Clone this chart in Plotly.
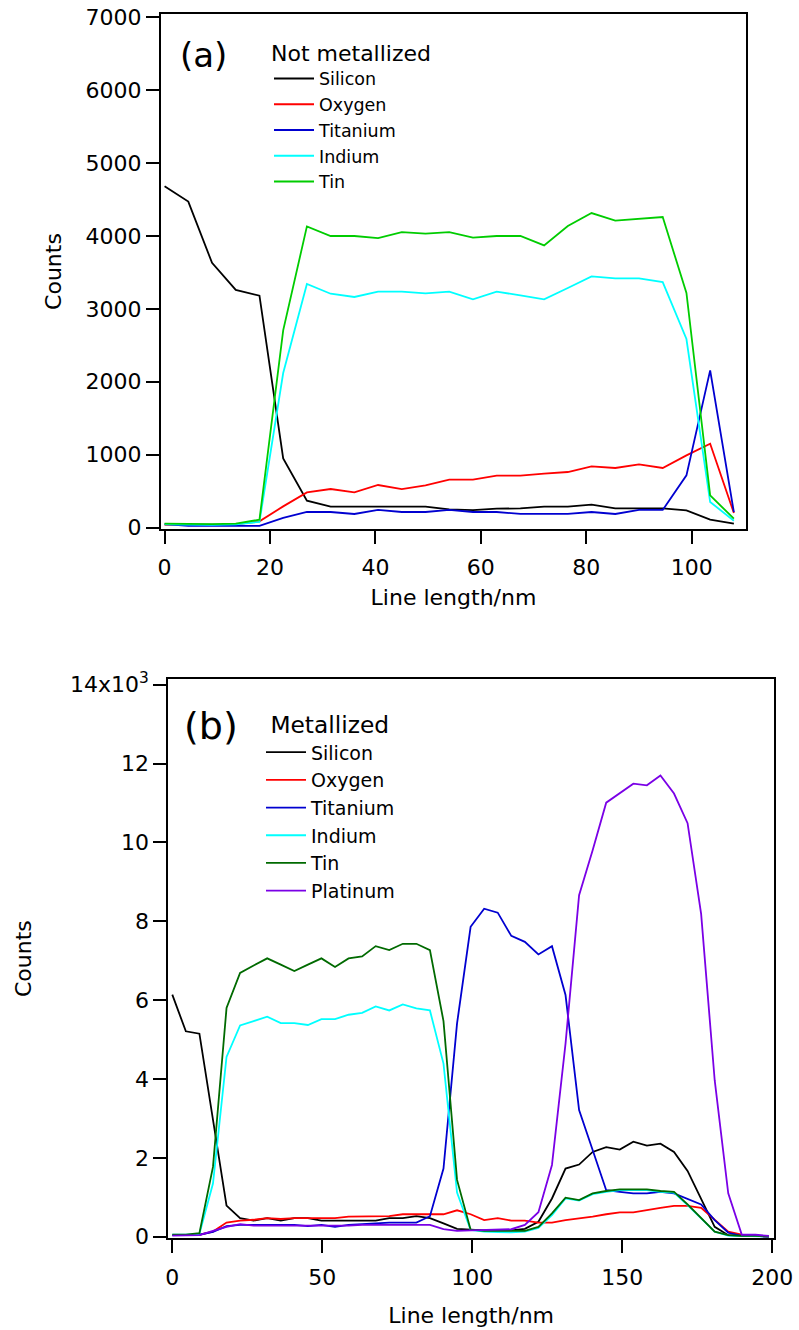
import plotly.graph_objects as go

FIG_W, FIG_H = 799, 1330
FONT = "DejaVu Sans"

# ---------------- Panel (a): not metallized, EDX line scan ----------------
A_STEP_NM = 4.5
A_LINE_NM = [round(i * A_STEP_NM, 2) for i in range(25)]

A_SILICON = [4680, 4470, 3630, 3260, 3180, 950, 370, 290, 290, 290, 290, 290, 250,
             240, 260, 265, 290, 290, 315, 265, 265, 265, 237, 110, 55]
A_OXYGEN = [40, 40, 40, 45, 87, 292, 484, 530, 484, 585, 530, 580, 658,
            658, 713, 713, 740, 763, 840, 818, 868, 818, 991, 1151, 201]
A_TITANIUM = [50, 25, 25, 25, 25, 133, 215, 215, 188, 243, 215, 215, 243,
              215, 215, 188, 188, 188, 215, 188, 243, 243, 717, 2156, 212]
A_INDIUM = [45, 40, 40, 45, 80, 2120, 3340, 3207, 3162, 3235, 3235, 3212, 3235,
            3130, 3235, 3184, 3130, 3285, 3445, 3417, 3417, 3367, 2586, 352, 96]
A_TIN = [55, 50, 50, 55, 110, 2705, 4130, 3998, 3998, 3970, 4052, 4030, 4052,
         3975, 3998, 3998, 3870, 4135, 4313, 4208, 4231, 4258, 3217, 443, 123]

# ---------------- Panel (b): metallized, counts in thousands ----------------
B_STEP_NM = 4.52
B_LINE_NM = [round(i * B_STEP_NM, 2) for i in range(45)]

B_SILICON = [6.14, 5.21, 5.15, 3.00, 0.79, 0.47, 0.41, 0.47, 0.41, 0.47, 0.47, 0.41,
             0.41, 0.41, 0.41, 0.41, 0.47, 0.47, 0.52, 0.47, 0.34, 0.20, 0.18, 0.16,
             0.16, 0.16, 0.20, 0.38, 0.97, 1.73, 1.83, 2.15, 2.27, 2.21, 2.41, 2.31,
             2.36, 2.15, 1.67, 0.97, 0.25, 0.04, 0.02, 0.02, 0.00]
B_OXYGEN = [0.04, 0.04, 0.05, 0.13, 0.36, 0.41, 0.43, 0.47, 0.45, 0.47, 0.47, 0.47,
            0.47, 0.51, 0.51, 0.51, 0.52, 0.57, 0.57, 0.57, 0.57, 0.67, 0.57, 0.42,
            0.47, 0.41, 0.41, 0.36, 0.36, 0.42, 0.46, 0.51, 0.57, 0.62, 0.62, 0.68,
            0.73, 0.78, 0.78, 0.73, 0.42, 0.13, 0.05, 0.02, 0.01]
B_TITANIUM = [0.04, 0.04, 0.05, 0.12, 0.27, 0.30, 0.30, 0.30, 0.30, 0.30, 0.27, 0.30,
              0.25, 0.30, 0.32, 0.34, 0.36, 0.36, 0.36, 0.52, 1.73, 5.41, 7.86, 8.32,
              8.22, 7.63, 7.48, 7.16, 7.37, 6.13, 3.21, 2.20, 1.18, 1.14, 1.10, 1.10,
              1.14, 1.10, 0.97, 0.82, 0.42, 0.10, 0.02, 0.02, 0.00]
B_INDIUM = [0.05, 0.05, 0.07, 1.35, 4.56, 5.36, 5.47, 5.58, 5.42, 5.42, 5.37, 5.52,
            5.52, 5.63, 5.68, 5.84, 5.74, 5.89, 5.79, 5.74, 4.39, 1.12, 0.17, 0.13,
            0.12, 0.11, 0.13, 0.22, 0.55, 0.97, 0.92, 1.08, 1.14, 1.18, 1.18, 1.18,
            1.14, 1.12, 0.80, 0.46, 0.13, 0.03, 0.02, 0.02, 0.01]
B_TIN = [0.05, 0.05, 0.09, 1.77, 5.80, 6.69, 6.88, 7.06, 6.90, 6.74, 6.90, 7.06,
         6.84, 7.06, 7.11, 7.37, 7.27, 7.43, 7.43, 7.27, 5.47, 1.44, 0.18, 0.15,
         0.15, 0.15, 0.15, 0.25, 0.59, 0.99, 0.93, 1.10, 1.16, 1.20, 1.20, 1.20,
         1.16, 1.14, 0.82, 0.47, 0.13, 0.04, 0.02, 0.02, 0.01]
B_PLATINUM = [0.03, 0.03, 0.04, 0.15, 0.25, 0.32, 0.28, 0.28, 0.28, 0.28, 0.28, 0.28,
              0.28, 0.28, 0.30, 0.30, 0.30, 0.30, 0.30, 0.30, 0.19, 0.15, 0.16, 0.17,
              0.19, 0.19, 0.30, 0.62, 1.82, 4.90, 8.66, 9.80, 11.01, 11.24, 11.49, 11.45,
              11.70, 11.24, 10.49, 8.19, 3.97, 1.10, 0.05, 0.05, 0.02]

A_XTICKS = [0, 20, 40, 60, 80, 100]
A_YTICKS = [0, 1000, 2000, 3000, 4000, 5000, 6000, 7000]
B_XTICKS = [0, 50, 100, 150, 200]
B_YTICKS = [0, 2, 4, 6, 8, 10, 12, 14]
B_YTICKTEXT = ["0", "2", "4", "6", "8", "10", "12", "14x10<sup>3</sup>"]

COLORS = {
    "Silicon": "#000000",
    "Oxygen": "#ff0000",
    "Titanium": "#0000d0",
    "Indium": "#00ffff",
    "Tin": "#00cc00",
    "Tin (b)": "#006a00",
    "Platinum": "#7a00e6",
}

fig = go.Figure()

series_a = [("Silicon", A_SILICON), ("Oxygen", A_OXYGEN), ("Titanium", A_TITANIUM),
            ("Indium", A_INDIUM), ("Tin", A_TIN)]
for name, ys in series_a:
    fig.add_trace(go.Scatter(
        x=A_LINE_NM, y=ys, mode="lines", name=name,
        line=dict(color=COLORS[name], width=1.8),
        xaxis="x", yaxis="y", legend="legend",
    ))

series_b = [("Silicon", B_SILICON, COLORS["Silicon"]), ("Oxygen", B_OXYGEN, COLORS["Oxygen"]),
            ("Titanium", B_TITANIUM, COLORS["Titanium"]), ("Indium", B_INDIUM, COLORS["Indium"]),
            ("Tin", B_TIN, COLORS["Tin (b)"]), ("Platinum", B_PLATINUM, COLORS["Platinum"])]
for name, ys, col in series_b:
    fig.add_trace(go.Scatter(
        x=B_LINE_NM, y=ys, mode="lines", name=name,
        line=dict(color=col, width=1.8),
        xaxis="x2", yaxis="y2", legend="legend2",
    ))


def px_x(p):
    return p / FIG_W


def px_y(p):
    return 1 - p / FIG_H


axis_style = dict(
    showline=True, linecolor="black", linewidth=2, mirror=True,
    ticks="outside", ticklen=13, tickwidth=2, tickcolor="black",
    showgrid=False, zeroline=False, automargin=False,
    tickfont=dict(family=FONT, size=22, color="black"),
)

fig.update_layout(
    width=FIG_W, height=FIG_H,
    margin=dict(l=0, r=0, t=0, b=0, pad=0, autoexpand=False),
    paper_bgcolor="white", plot_bgcolor="white",
    font=dict(family=FONT, color="black"),
    xaxis=dict(domain=[px_x(161), px_x(746)], range=[-0.68, 110.3], anchor="y",
               tickvals=A_XTICKS, ticklabelstandoff=5,
               title=dict(text="Line length/nm", font=dict(size=22), standoff=10),
               **axis_style),
    yaxis=dict(domain=[px_y(529), px_y(14)], range=[-18, 7041], anchor="x",
               tickvals=A_YTICKS,
               title=dict(text="Counts", font=dict(size=22), standoff=18),
               **axis_style),
    xaxis2=dict(domain=[px_x(168.3), px_x(774)], range=[-1.33, 200.57], anchor="y2",
                tickvals=B_XTICKS, ticklabelstandoff=5,
                title=dict(text="Line length/nm", font=dict(size=22), standoff=19),
                **axis_style),
    yaxis2=dict(domain=[px_y(1238.3), px_y(679)], range=[-0.04, 14.146], anchor="x2",
                tickvals=B_YTICKS, ticktext=B_YTICKTEXT,
                title=dict(text="Counts", font=dict(size=22), standoff=32),
                **axis_style),
    legend=dict(
        x=px_x(269), y=px_y(32), xanchor="left", yanchor="top",
        bgcolor="rgba(0,0,0,0)", borderwidth=0,
        font=dict(family=FONT, size=17.5, color="black"),
        title=dict(text="Not metallized", font=dict(family=FONT, size=22)),
        itemwidth=40, traceorder="normal",
    ),
    legend2=dict(
        x=px_x(261), y=px_y(703), xanchor="left", yanchor="top",
        bgcolor="rgba(0,0,0,0)", borderwidth=0,
        font=dict(family=FONT, size=19, color="black"),
        title=dict(text="\u00a0Metallized", font=dict(family=FONT, size=23.3)),
        itemwidth=40, traceorder="normal",
    ),
    annotations=[
        dict(text="(a)", x=px_x(178), y=px_y(55), xref="paper", yref="paper",
             xanchor="left", yanchor="middle", showarrow=False,
             font=dict(family=FONT, size=34, color="black")),
        dict(text="(b)", x=px_x(182), y=px_y(726), xref="paper", yref="paper",
             xanchor="left", yanchor="middle", showarrow=False,
             font=dict(family=FONT, size=38, color="black")),
    ],
)

fig.write_html("out.html")
